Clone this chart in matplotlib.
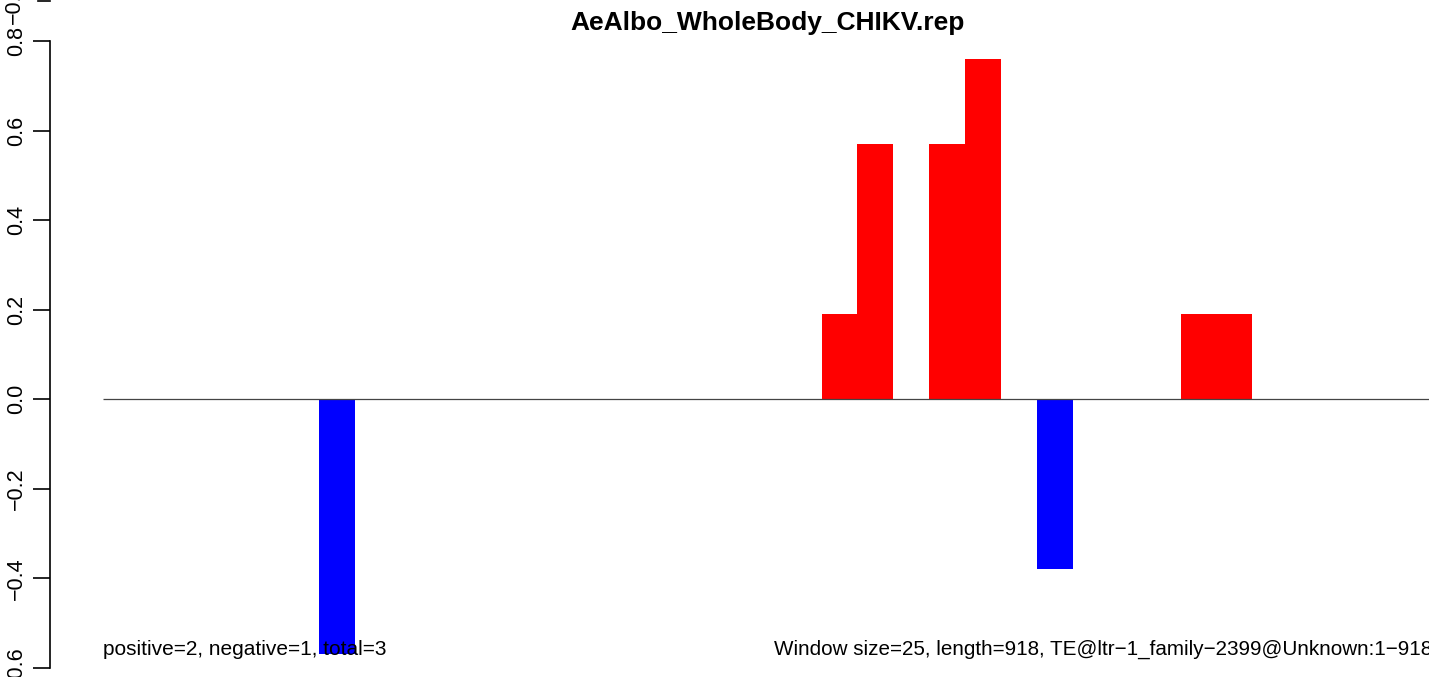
import numpy as np
import matplotlib
matplotlib.use("Agg")
import matplotlib.pyplot as plt

plt.rcParams['font.family'] = ['Liberation Sans', 'DejaVu Sans']

# windowed score, one value per 25 bp window (918 bp -> 37 windows)
n_windows = 37
hit_index = [6, 20, 21, 23, 24, 26, 30, 31]
hit_value = [-0.57, 0.19, 0.57, 0.57, 0.76, -0.38, 0.19, 0.19]
y_ticks = [-0.6, -0.4, -0.2, 0.0, 0.2, 0.4, 0.6, 0.8]
title = "AeAlbo_WholeBody_CHIKV.rep"
left_note = "positive=2, negative=1, total=3"
right_note = "Window size=25, length=918, TE@ltr\u22121_family\u22122399@Unknown:1\u2212918"

scores = np.zeros(n_windows)
scores[hit_index] = hit_value
colors = ['red' if v > 0 else 'blue' for v in scores]

W, H = 1429, 677
fig = plt.figure(figsize=(W / 100, H / 100), dpi=100)
# plot region runs past the right edge of the image (cropped like the original)
x0, x1 = 50.3, 1485.0
y_top, y_bot = 16.0, 693.0
ax = fig.add_axes([x0 / W, 1 - y_bot / H, (x1 - x0) / W, (y_bot - y_top) / H])

x = np.arange(n_windows)
ax.bar(x, scores, width=1.0, align='edge', color=colors, edgecolor='none')
ax.hlines(0, 0, n_windows, color='#444444', linewidth=0.9)

ax.set_xlim(-0.04 * n_windows, n_windows * 1.04)
ax.set_ylim(-0.656, 0.856)

for s in ['top', 'right', 'bottom']:
    ax.spines[s].set_visible(False)
ax.spines['left'].set_bounds(-0.6, 0.8)
ax.spines['left'].set_linewidth(1.2)
ax.set_xticks([])
ax.set_yticks(y_ticks)
ax.set_yticklabels([f"{t:.1f}".replace('-', '\u2212') for t in y_ticks],
                   rotation=90, va='center', fontsize=15.5)
ax.tick_params(axis='y', length=12, width=1.2, pad=5)

ax.text(0, -0.571, left_note, ha='left', va='baseline', fontsize=15)
ax.text(n_windows, -0.571, right_note, ha='right', va='baseline', fontsize=14.9)

fig.text(768 / W, 1 - 30 / H, title, ha='center', va='baseline',
         fontsize=19, fontweight='bold')

# leftover of the panel above (cropped label and tick)
fig.text(14 / W, 1 - 24 / H, "\u22120.6", rotation=90, ha='center', va='bottom',
         fontsize=15.5)
fig.add_artist(plt.Line2D([38 / W, 50 / W], [1 - 0.5 / H, 1 - 0.5 / H],
                          color='black', linewidth=1.2))

fig.savefig("out.png", dpi=100)
